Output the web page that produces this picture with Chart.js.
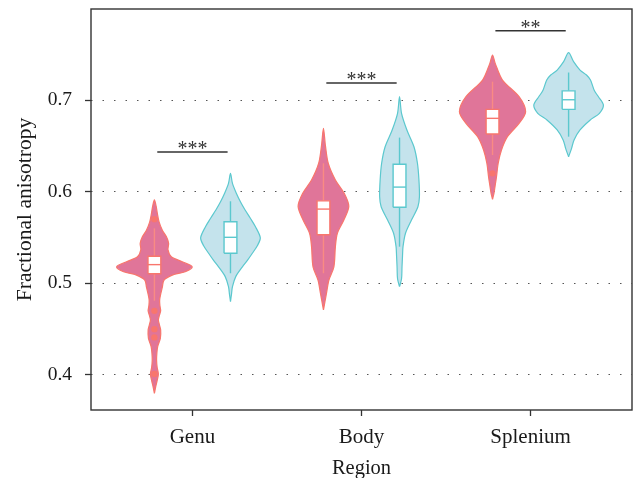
<!DOCTYPE html>
<html><head><meta charset="utf-8">
<script src="https://cdn.jsdelivr.net/npm/chart.js@4.4.1/dist/chart.umd.min.js"></script>
<style>html,body{margin:0;padding:0;background:#fff}</style>
</head><body>
<canvas id="c" width="636" height="478"></canvas>
<script>
// ---------- DATA ----------
const categories = ['Genu', 'Body', 'Splenium'];
const yTickValues = [0.4, 0.5, 0.6, 0.7];

// violin outlines: FA value and density half-width (pixel-like units)
const genuAY = [0.380,0.387,0.394,0.401,0.408,0.416,0.424,0.431,0.440,0.449,0.455,0.460,0.465,0.470,0.476,0.482,0.489,0.496,0.5036,0.509,0.5127,0.518,0.5236,0.529,0.5364,0.5437,0.551,0.558,0.567,0.576,0.584,0.591];
const genuAW = [0,1.3,2.8,4,2.8,2.2,2.5,3.3,6,6.3,5,4,5,6.3,5.5,5.3,6.5,8,9.7,18,31,38,28,17,13.7,14.3,12,8,4.7,3,1.8,0];
const bodyAY = [0.471,0.480,0.489,0.5036,0.518,0.540,0.5546,0.569,0.584,0.598,0.6127,0.631,0.650,0.669];
const bodyAW = [0,1.5,3,5.5,10.5,12,14,20.5,25.5,21,12,4.8,2,0];
const splAY  = [0.5917,0.5985,0.6055,0.6163,0.631,0.6455,0.660,0.6746,0.6873,0.7036,0.7218,0.740,0.749];
const splAW  = [0,1.5,2.5,4,5.7,9,15,26.7,33.3,26.7,10,2.7,0];

const genuBY = [0.480,0.488,0.4963,0.5073,0.518,0.525,0.5328,0.541,0.5497,0.562,0.571,0.580,0.589,0.598,0.609,0.620];
const genuBW = [0,1,2,5.3,12,17,22,27,30,25,20,14.7,10,6,2,0];
const bodyBY = [0.4963,0.505,0.518,0.530,0.540,0.5546,0.569,0.5836,0.5945,0.613,0.631,0.649,0.667,0.6855,0.7036];
const bodyBW = [0,2,2.5,3,3.5,6,12,18.5,20,19.5,18,14.5,7.5,2,0];
const splBY  = [0.638,0.6473,0.6564,0.6673,0.678,0.6855,0.6945,0.7036,0.7100,0.7218,0.7273,0.7327,0.7418,0.7516];
const splBW  = [0,3,5.5,11.5,21.5,31,35,30,26,22,18,11.5,5,0];

// box plot statistics per region
const aLow  = [0.481, 0.511, 0.640];
const aQ1   = [0.5105, 0.553, 0.6629];
const aMed  = [0.5204, 0.581, 0.680];
const aQ3   = [0.5295, 0.590, 0.6898];
const aHigh = [0.560, 0.631, 0.720];
const aOutliers = [[0.570, 0.470, 0.450, 0.441, 0.401], [], [0.620]];

const bLow  = [0.511, 0.540, 0.660];
const bQ1   = [0.5328, 0.583, 0.6898];
const bMed  = [0.5502, 0.605, 0.7003];
const bQ3   = [0.5672, 0.630, 0.710];
const bHigh = [0.5895, 0.659, 0.730];
const bOutliers = [[], [], []];

// significance annotations
const sigLabels = ['***', '***', '**'];
const sigY = [0.6433, 0.7185, 0.7757];

// ---------- BUILD ----------
const dodge = 0.225, widthScale = 1 / 170, boxHalf = 0.038;
const SERIF = '"Liberation Serif", "Times New Roman", serif';
const groups = [
  {violins: [[genuAY, genuAW], [bodyAY, bodyAW], [splAY, splAW]], low: aLow, q1: aQ1, med: aMed, q3: aQ3, high: aHigh, out: aOutliers,
   off: -dodge, fill: '#E07599', line: '#F8766D', whisker: '#F98B83'},
  {violins: [[genuBY, genuBW], [bodyBY, bodyBW], [splBY, splBW]], low: bLow, q1: bQ1, med: bMed, q3: bQ3, high: bHigh, out: bOutliers,
   off: dodge, fill: '#C4E3EC', line: '#5BC8CE', whisker: '#5BC8CE'}
];
function seg(x1, y1, x2, y2, color, w, order) {
  return {data: [{x: x1, y: y1}, {x: x2, y: y2}], showLine: true, fill: false, borderColor: color,
          borderWidth: w, pointRadius: 0, order: order};
}
const datasets = [];
groups.forEach(g => {
  categories.forEach((cat, i) => {
    const c = i + 1 + g.off;
    const [ys, ws] = g.violins[i];
    const pts = [];
    ys.forEach((y, k) => pts.push({x: c + ws[k] * widthScale, y: y}));
    for (let k = ys.length - 2; k >= 0; k--) pts.push({x: c - ws[k] * widthScale, y: ys[k]});
    datasets.push({data: pts, showLine: true, fill: 'shape', backgroundColor: g.fill, borderColor: g.line,
                   borderWidth: 1.2, pointRadius: 0, tension: 0.3, order: 6});
    datasets.push(seg(c, g.q3[i], c, g.high[i], g.whisker, 1.4, 4));
    datasets.push(seg(c, g.low[i], c, g.q1[i], g.whisker, 1.4, 4));
    datasets.push({data: [{x: c - boxHalf, y: g.q1[i]}, {x: c + boxHalf, y: g.q1[i]}, {x: c + boxHalf, y: g.q3[i]},
                          {x: c - boxHalf, y: g.q3[i]}, {x: c - boxHalf, y: g.q1[i]}],
                   showLine: true, fill: 'shape', backgroundColor: '#ffffff', borderColor: g.line, borderWidth: 1.4,
                   pointRadius: 0, order: 3});
    datasets.push(seg(c - boxHalf, g.med[i], c + boxHalf, g.med[i], g.line, 1.4, 2));
    if (g.out[i].length) {
      datasets.push({data: g.out[i].map(y => ({x: i + 1 + g.off, y: y})), showLine: false, pointRadius: 3.2,
                     pointBackgroundColor: g.line, pointBorderWidth: 0, order: 1});
    }
  });
});
categories.forEach((cat, i) => {
  datasets.push(seg(i + 1 - 0.208, sigY[i], i + 1 + 0.208, sigY[i], '#333333', 1.5, 0));
});

const framePlugin = {
  id: 'frame',
  afterDraw(chart) {
    const {ctx, chartArea: a} = chart;
    ctx.save();
    ctx.strokeStyle = '#333333';
    ctx.lineWidth = 1.4;
    ctx.strokeRect(a.left, a.top, a.right - a.left, a.bottom - a.top);
    ctx.restore();
  }
};
const sigPlugin = {
  id: 'sig',
  afterDatasetsDraw(chart) {
    const {ctx, scales: {x, y}} = chart;
    ctx.save();
    ctx.fillStyle = '#333333';
    ctx.font = '20px ' + SERIF;
    ctx.textAlign = 'center';
    ctx.textBaseline = 'alphabetic';
    sigLabels.forEach((t, i) => {
      ctx.fillText(t, x.getPixelForValue(i + 1), y.getPixelForValue(sigY[i]) + 3);
    });
    ctx.restore();
  }
};

new Chart(document.getElementById('c'), {
  type: 'scatter',
  data: {datasets: datasets},
  options: {
    responsive: false,
    animation: false,
    layout: {padding: {top: 9, right: 2, left: 0, bottom: 0}},
    plugins: {legend: {display: false}, tooltip: {enabled: false}},
    scales: {
      x: {
        type: 'linear', min: 0.4, max: 3.6,
        afterBuildTicks: s => { s.ticks = categories.map((c, i) => ({value: i + 1})); },
        afterFit: s => { s.height = 68; s.paddingLeft = 0; s.paddingRight = 0; },
        grid: {drawOnChartArea: false, drawTicks: true, tickLength: 6, tickColor: '#333333', tickWidth: 1.3},
        border: {display: false},
        ticks: {callback: v => categories[Math.round(v) - 1], color: '#1a1a1a', autoSkip: false, maxRotation: 0,
                font: {family: SERIF, size: 21}, padding: 9},
        title: {display: true, text: 'Region', color: '#1a1a1a', font: {family: SERIF, size: 20.5, lineHeight: 0.9},
                padding: {top: 0, bottom: 0}}
      },
      y: {
        type: 'linear', min: 0.3618, max: 0.7993,
        afterBuildTicks: s => { s.ticks = yTickValues.map(v => ({value: v})); },
        afterFit: s => { s.width = 91; s.paddingTop = 0; s.paddingBottom = 0; },
        grid: {color: '#555555', lineWidth: 1, tickLength: 6, tickColor: '#333333', tickWidth: 1.3, tickBorderDash: []},
        border: {display: false, dash: [1.5, 10]},
        ticks: {callback: v => v.toFixed(1), color: '#1a1a1a', font: {family: SERIF, size: 19.5}, padding: 13},
        title: {display: true, text: 'Fractional anisotropy', color: '#1a1a1a', font: {family: SERIF, size: 21.5, lineHeight: 1},
                padding: {top: 15, bottom: 0}}
      }
    }
  },
  plugins: [framePlugin, sigPlugin]
});
</script>
</body></html>
